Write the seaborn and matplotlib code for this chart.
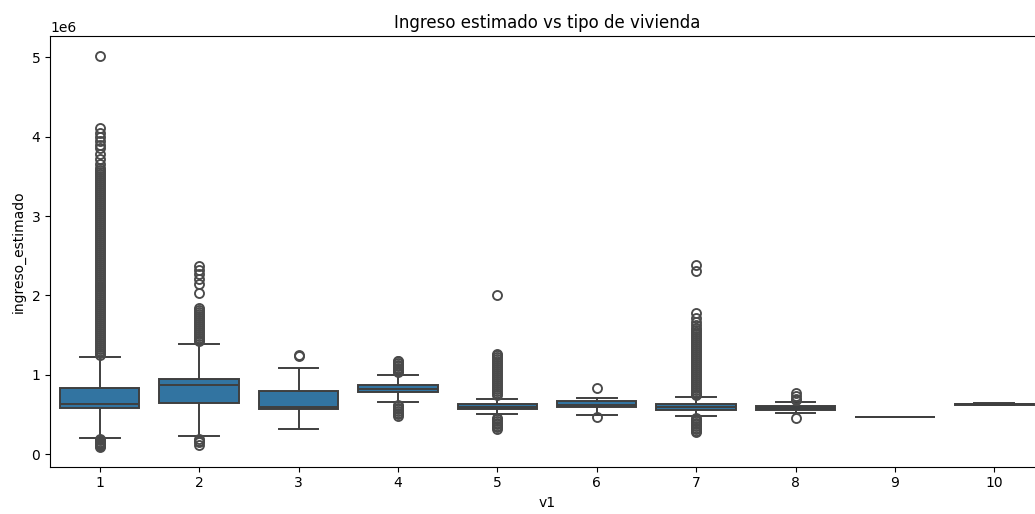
import numpy as np
import pandas as pd
import matplotlib
matplotlib.use("Agg")
import matplotlib.pyplot as plt
import seaborn as sns

# ---- data (values in millions of pesos) ----
categories = [1, 2, 3, 4, 5, 6, 7, 8, 9, 10]
q1 = [0.583, 0.651, 0.575, 0.781, 0.571, 0.590, 0.563, 0.563, 0.47, 0.625]
medians = [0.633, 0.878, 0.592, 0.827, 0.600, 0.625, 0.595, 0.585, 0.47, 0.630]
q3 = [0.840, 0.953, 0.797, 0.878, 0.638, 0.665, 0.630, 0.605, 0.47, 0.635]
whisker_low = [0.210, 0.227, 0.315, 0.655, 0.508, 0.490, 0.479, 0.516, 0.47, 0.620]
whisker_high = [1.225, 1.394, 1.083, 0.995, 0.693, 0.705, 0.722, 0.655, 0.47, 0.640]

outliers_high = [
    [1.250, 1.275, 1.300, 1.325, 1.350, 1.375, 1.400, 1.425, 1.450, 1.475,
     1.500, 1.525, 1.550, 1.575, 1.600, 1.625, 1.650, 1.675, 1.700, 1.725,
     1.750, 1.775, 1.800, 1.825, 1.850, 1.875, 1.900, 1.925, 1.950, 1.975,
     2.000, 2.025, 2.050, 2.075, 2.100, 2.125, 2.150, 2.175, 2.200, 2.225,
     2.250, 2.275, 2.300, 2.325, 2.350, 2.375, 2.400, 2.425, 2.450, 2.475,
     2.500, 2.525, 2.550, 2.575, 2.600, 2.625, 2.650, 2.675, 2.700, 2.725,
     2.750, 2.775, 2.800, 2.825, 2.850, 2.875, 2.900, 2.925, 2.950, 2.975,
     3.000, 3.025, 3.050, 3.075, 3.100, 3.125, 3.150, 3.175, 3.200, 3.225,
     3.250, 3.275, 3.300, 3.325, 3.350, 3.375, 3.400, 3.425, 3.450, 3.475,
     3.500, 3.525, 3.550, 3.575, 3.600,
     3.65, 3.72, 3.78, 3.85, 3.90, 3.95, 4.00, 4.05, 4.11, 5.02],
    [1.42, 1.445, 1.47, 1.495, 1.52, 1.545, 1.57, 1.595, 1.62, 1.645, 1.67,
     1.695, 1.72, 1.745, 1.77, 1.795, 1.82, 1.845,
     2.03, 2.15, 2.21, 2.27, 2.32, 2.37],
    [1.235, 1.245],
    [1.03, 1.05, 1.07, 1.09, 1.11, 1.13, 1.15, 1.17, 1.18],
    [0.75, 0.775, 0.80, 0.825, 0.85, 0.875, 0.90, 0.925, 0.95, 0.975, 1.00,
     1.025, 1.05, 1.075, 1.10, 1.125, 1.15, 1.175, 1.20, 1.225, 1.25, 1.265,
     2.01],
    [0.83],
    [0.74, 0.765, 0.79, 0.815, 0.84, 0.865, 0.89, 0.915, 0.94, 0.965, 0.99,
     1.015, 1.04, 1.065, 1.09, 1.115, 1.14, 1.165, 1.19, 1.215, 1.24, 1.265,
     1.29, 1.315, 1.34, 1.365, 1.39, 1.415, 1.44, 1.465, 1.49, 1.515, 1.54,
     1.565, 1.59, 1.63, 1.67, 1.72, 1.78, 2.31, 2.38],
    [0.68, 0.70, 0.73, 0.77],
    [],
    [],
]
outliers_low = [
    [0.19, 0.175, 0.16, 0.145, 0.13, 0.115, 0.10, 0.09],
    [0.19, 0.17, 0.15, 0.12],
    [],
    [0.625, 0.605, 0.585, 0.565, 0.545, 0.525, 0.505, 0.485],
    [0.46, 0.44, 0.42, 0.40, 0.38, 0.36, 0.34, 0.32],
    [0.465],
    [0.455, 0.435, 0.415, 0.395, 0.375, 0.355, 0.335, 0.315, 0.295, 0.28],
    [0.46],
    [],
    [],
]

title = "Ingreso estimado vs tipo de vivienda"
x_label = "v1"
y_label = "ingreso_estimado"

# ---- build long-form table reproducing those box statistics ----
rows_v1, rows_val = [], []
for i, cat in enumerate(categories):
    lows, highs = outliers_low[i], outliers_high[i]
    block = 3 * (len(lows) + len(highs)) + 20
    vals = (list(lows) + [whisker_low[i]] + [q1[i]] * block +
            [medians[i]] * block + [q3[i]] * block + [whisker_high[i]] +
            list(highs))
    rows_v1 += [cat] * len(vals)
    rows_val += vals
df = pd.DataFrame({"v1": rows_v1, "ingreso_estimado": np.array(rows_val) * 1e6})

# ---- plot ----
fig = plt.figure(figsize=(10.35, 5.14), dpi=100)
ax = fig.add_axes([50 / 1035, 47.3 / 514, 994 / 1035, 430.7 / 514])
sns.boxplot(data=df, x="v1", y="ingreso_estimado", ax=ax,
            linewidth=1.4, fliersize=6.5,
            flierprops={"markeredgewidth": 1.35, "markeredgecolor": "#4a4a4a"})
ax.set_title(title, fontsize=12)
ax.set_xlabel(x_label)
ax.set_ylabel(y_label)
fig.savefig("out.png", dpi=100)
